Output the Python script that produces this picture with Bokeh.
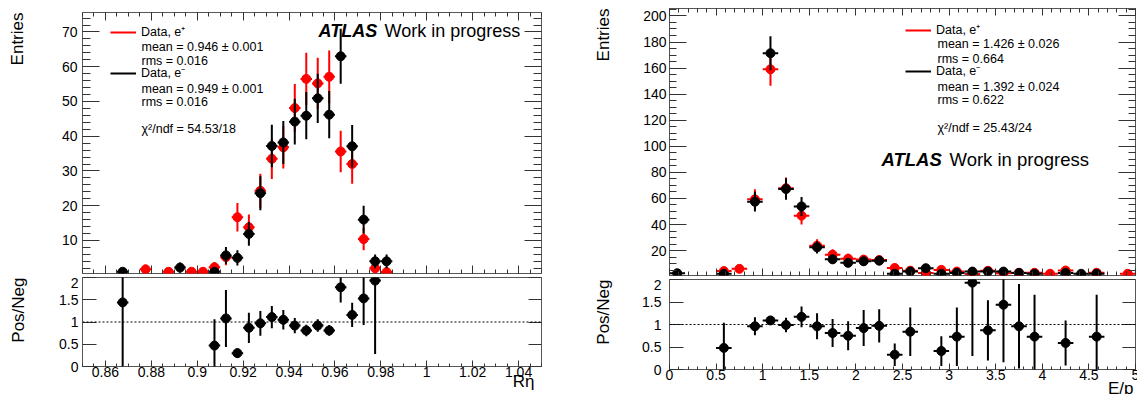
import numpy as np
from bokeh.plotting import figure
from bokeh.models import (LinearAxis, FixedTicker, Range1d, Label, Span, Legend, Title,
                          LegendItem, ColumnDataSource, CustomJSTickFormatter,
                          CustomLabelingPolicy)
from bokeh.layouts import row, column
from bokeh.embed import file_html
from bokeh.resources import INLINE

FONT = "Liberation Sans"
FRAME = "#555555"
TICK = "#333333"

# ---------------- data: R_eta (left) ----------------
reta_pos_x = [0.8775, 0.8875, 0.8975, 0.9025, 0.9075, 0.9125, 0.9175, 0.9225, 0.9275, 0.9325,
              0.9375, 0.9425, 0.9475, 0.9525, 0.9575, 0.9625, 0.9675, 0.9725, 0.9775, 0.9825]
reta_pos_y = [1.7, 1.0, 1.0, 1.0, 2.3, 5.2, 16.7, 13.8, 24.3, 33.5,
              36.8, 48.1, 56.5, 55.2, 57.1, 35.6, 32.0, 10.4, 2.0, 0.9]
reta_pos_err = [1.3, 1.0, 1.0, 1.0, 1.5, 2.3, 4.1, 3.7, 4.9, 5.8,
                6.1, 6.9, 7.5, 7.4, 7.6, 6.0, 5.7, 3.2, 1.4, 0.9]
reta_neg_x = [0.8675, 0.8925, 0.9075, 0.9125, 0.9175, 0.9225, 0.9275, 0.9325, 0.9375,
              0.9425, 0.9475, 0.9525, 0.9575, 0.9625, 0.9675, 0.9725, 0.9775, 0.9825]
reta_neg_y = [1.0, 2.2, 1.0, 5.7, 5.0, 11.9, 23.6, 37.2, 38.2,
              44.2, 45.9, 50.9, 46.2, 63.0, 37.1, 16.0, 4.0, 4.0]
reta_neg_err = [1.0, 1.5, 1.0, 2.4, 2.2, 3.4, 4.9, 6.1, 6.2,
                6.6, 6.8, 7.1, 6.8, 7.9, 6.1, 4.0, 2.0, 2.0]
reta_ratio_x = [0.8675, 0.9075, 0.9125, 0.9175, 0.9225, 0.9275, 0.9325, 0.9375,
                0.9425, 0.9475, 0.9525, 0.9575, 0.9625, 0.9675, 0.9725, 0.9775]
reta_ratio_y = [1.44, 0.47, 1.08, 0.30, 0.87, 0.97, 1.11, 1.05,
                0.92, 0.81, 0.92, 0.81, 1.78, 1.16, 1.53, 1.93]
reta_ratio_err = [1.50, 0.59, 0.64, 0.11, 0.34, 0.28, 0.25, 0.22,
                  0.17, 0.13, 0.14, 0.12, 0.34, 0.27, 0.60, 1.65]
reta_half_bin = 0.0025
reta_ticks = [0.86, 0.88, 0.9, 0.92, 0.94, 0.96, 0.98, 1.0, 1.02, 1.04]

# ---------------- data: E/p (right) ----------------
ep_pos_x = [0.5833, 0.75, 0.9167, 1.0833, 1.25, 1.4167, 1.5833, 1.75, 1.9167, 2.0833, 2.25,
            2.4167, 2.5833, 2.75, 2.9167, 3.0833, 3.25, 3.4167, 3.5833, 3.75, 3.9167,
            4.0833, 4.25, 4.5833, 4.9167]
ep_pos_y = [4.3, 6.0, 59.3, 159.1, 67.9, 46.8, 23.8, 16.9, 13.8, 13.1, 12.7,
            6.7, 4.6, 2.9, 5.2, 3.9, 2.0, 4.5, 2.7, 3.0, 3.0,
            2.2, 4.7, 3.0, 2.2]
ep_pos_err = [2.1, 2.4, 7.7, 12.6, 8.2, 6.8, 4.9, 4.1, 3.7, 3.6, 3.6,
              2.6, 2.1, 1.7, 2.3, 2.0, 1.4, 2.1, 1.6, 1.7, 1.7,
              1.5, 2.2, 1.7, 1.5]
ep_neg_x = [0.0833, 0.5833, 0.9167, 1.0833, 1.25, 1.4167, 1.5833, 1.75, 1.9167, 2.0833, 2.25,
            2.4167, 2.5833, 2.75, 2.9167, 3.0833, 3.25, 3.4167, 3.5833, 3.75, 3.9167,
            4.25, 4.4167, 4.5833]
ep_neg_y = [2.6, 2.2, 57.5, 171.4, 67.2, 53.9, 22.5, 13.3, 10.6, 11.8, 12.3,
            2.2, 3.9, 6.5, 2.2, 2.9, 3.9, 3.9, 3.9, 2.9, 2.2,
            2.9, 2.2, 2.2]
ep_neg_err = [1.6, 1.5, 7.6, 13.1, 8.2, 7.3, 4.7, 3.6, 3.3, 3.4, 3.5,
              1.5, 2.0, 2.5, 1.5, 1.7, 2.0, 2.0, 2.0, 1.7, 1.5,
              1.7, 1.5, 1.5]
ep_ratio_x = [0.5833, 0.9167, 1.0833, 1.25, 1.4167, 1.5833, 1.75, 1.9167, 2.0833, 2.25,
              2.4167, 2.5833, 2.9167, 3.0833, 3.25, 3.4167, 3.5833, 3.75, 3.9167, 4.25, 4.5833]
ep_ratio_y = [0.48, 0.96, 1.09, 0.99, 1.17, 0.96, 0.81, 0.75, 0.92, 0.97,
              0.33, 0.84, 0.41, 0.73, 1.93, 0.87, 1.44, 0.96, 0.73, 0.59, 0.73]
ep_ratio_err = [0.56, 0.20, 0.10, 0.16, 0.23, 0.29, 0.31, 0.32, 0.40, 0.37,
                0.25, 0.54, 0.33, 0.65, 1.63, 0.67, 1.28, 0.94, 0.93, 0.50, 0.93]
ep_half_bin = 1.0 / 12.0
ep_ticks = [0, 0.5, 1, 1.5, 2, 2.5, 3, 3.5, 4, 4.5, 5]


class Frame:
    """Maps page pixels to data coordinates for a panel's frame."""
    def __init__(self, left, top, right, bottom, xr, yr):
        self.l, self.t, self.r, self.b = left, top, right, bottom
        self.xr, self.yr = xr, yr

    def x(self, px):
        return self.xr[0] + (px - self.l) / (self.r - self.l) * (self.xr[1] - self.xr[0])

    def y(self, py):
        return self.yr[1] - (py - self.t) / (self.b - self.t) * (self.yr[1] - self.yr[0])


FMT = CustomJSTickFormatter(code="return String(parseFloat(tick.toFixed(4)));")
NO_LABELS = CustomLabelingPolicy(code="for (const i of Array.from(indices)) indices.unset(i); return indices;")


def make_panel(fr, bl, br, bt, bb):
    p = figure(x_range=Range1d(*fr.xr), y_range=Range1d(*fr.yr),
               frame_width=fr.r - fr.l, frame_height=fr.b - fr.t,
               min_border_left=bl, min_border_right=br,
               min_border_top=bt, min_border_bottom=bb,
               toolbar_location=None, output_backend="svg",
               x_axis_type=None, y_axis_type=None)
    p.outline_line_color = FRAME
    p.outline_line_width = 1
    p.background_fill_color = "white"
    p.border_fill_color = "white"
    return p


def add_axis(p, side, ticks, minor, labels, major_in, minor_in, standoff=3, size="14px"):
    ax = LinearAxis(ticker=FixedTicker(ticks=ticks, minor_ticks=minor), formatter=FMT)
    ax.axis_line_color = None
    ax.major_tick_in = major_in
    ax.major_tick_out = 0
    ax.minor_tick_in = minor_in
    ax.minor_tick_out = 0
    ax.major_tick_line_color = TICK
    ax.minor_tick_line_color = TICK
    if labels:
        ax.major_label_text_font = FONT
        ax.major_label_text_font_size = size
        ax.major_label_text_color = "black"
        ax.major_label_standoff = standoff
    else:
        ax.major_label_policy = NO_LABELS
        ax.major_label_text_font_size = "1px"
        ax.major_label_standoff = 0
    p.add_layout(ax, side)


def side_title_left(p, text, line_height):
    # ROOT-style axis title at the top end of a vertical axis; the empty second
    # line pushes the title away from the tick labels.
    t = Title(text=text + "\n", align="right", vertical_align="bottom", standoff=0,
              text_font=FONT, text_font_size="17px", text_font_style="normal",
              text_color="black", text_line_height=line_height)
    p.add_layout(t, "left")


def side_title_below(p, text, standoff, offset):
    t = Title(text=text, align="right", vertical_align="top", standoff=standoff, offset=offset,
              text_font=FONT, text_font_size="17px", text_font_style="normal",
              text_color="black")
    p.add_layout(t, "below")


def draw_points(p, xs, ys, errs, half, color):
    xs = np.asarray(xs, float)
    ys = np.asarray(ys, float)
    errs = np.asarray(errs, float)
    src = ColumnDataSource(dict(x=xs, y=ys, lo=ys - errs, hi=ys + errs,
                                x0=xs - half, x1=xs + half))
    rv = p.segment(x0="x", y0="lo", x1="x", y1="hi", source=src, line_color=color, line_width=2)
    p.segment(x0="x0", y0="y", x1="x1", y1="y", source=src, line_color=color, line_width=2)
    p.scatter(x="x", y="y", source=src, marker="circle", size=9,
              fill_color=color, line_color=color)
    return rv


def add_text(p, fr, px, py, text, size="12.5px", style="normal"):
    p.add_layout(Label(x=fr.x(px), y=fr.y(py), text=text, text_font=FONT,
                       text_font_size=size, text_font_style=style, text_color="black",
                       text_align="left", text_baseline="middle"))


def add_legend(p, r_pos, r_neg, loc, spacing):
    lg = Legend(items=[LegendItem(label="Data, e\u207a", renderers=[r_pos]),
                       LegendItem(label="Data, e\u207b", renderers=[r_neg])],
                location=loc)
    lg.glyph_width = 26
    lg.glyph_height = 14
    lg.label_height = 14
    lg.spacing = spacing
    lg.label_standoff = 5
    lg.padding = 0
    lg.margin = 0
    lg.border_line_color = None
    lg.background_fill_alpha = 0
    lg.label_text_font = FONT
    lg.label_text_font_size = "12.5px"
    lg.label_text_color = "black"
    p.add_layout(lg)


def ratio_line(p):
    p.add_layout(Span(location=1, dimension="width", line_color="black",
                      line_width=1, line_dash="2 2"))


# ---------------- frames (page pixels) ----------------
LU = Frame(82, 12, 541, 273, (0.85, 1.05), (0.5, 75.6))
LL = Frame(82, 273, 541, 362, (0.85, 1.05), (0.0, 2.0))
RU = Frame(669, 8, 1135, 275, (0.0, 5.0), (0.9, 205.7))
RL = Frame(669, 275, 1135, 365, (0.0, 5.0), (0.0, 2.0))

reta_minor = [round(0.85 + 0.005 * i, 4) for i in range(41)]
ep_minor = [round(0.1 * i, 2) for i in range(51)]

# ---------------- left upper ----------------
lu = make_panel(LU, 82, 36, 12, 0)
add_axis(lu, "below", reta_ticks, reta_minor, False, 8, 4)
add_axis(lu, "above", reta_ticks, reta_minor, False, 8, 4)
add_axis(lu, "left", [10, 20, 30, 40, 50, 60, 70], list(range(0, 77, 2)), True, 17, 8, standoff=5)
add_axis(lu, "right", [10, 20, 30, 40, 50, 60, 70], list(range(0, 77, 2)), False, 17, 8)
side_title_left(lu, "Entries", 1.66)
r_pos = draw_points(lu, reta_pos_x, reta_pos_y, reta_pos_err, reta_half_bin, "#ff0000")
r_neg = draw_points(lu, reta_neg_x, reta_neg_y, reta_neg_err, reta_half_bin, "#000000")
add_legend(lu, r_pos, r_neg, (110 - 82, 192), 24)
add_text(lu, LU, 141, 46, "mean = 0.946 \u00b1 0.001")
add_text(lu, LU, 141, 60, "rms = 0.016")
add_text(lu, LU, 141, 88, "mean = 0.949 \u00b1 0.001")
add_text(lu, LU, 141, 101, "rms = 0.016")
add_text(lu, LU, 141, 128, "\u03c7\u00b2/ndf = 54.53/18")
add_text(lu, LU, 318, 30, "ATLAS", size="18px", style="bold italic")
add_text(lu, LU, 384, 30, "Work in progress", size="18px")

# ---------------- left lower ----------------
ll = make_panel(LL, 82, 36, 0, 32)
add_axis(ll, "below", reta_ticks, reta_minor, True, 6, 3, standoff=0)
add_axis(ll, "left", [0, 0.5, 1, 1.5, 2], [], True, 14, 0, standoff=4)
add_axis(ll, "right", [0, 0.5, 1, 1.5, 2], [], False, 13, 0)
side_title_left(ll, "Pos/Neg", 1.52)
side_title_below(ll, "R\u03b7", -16, 7)
ratio_line(ll)
draw_points(ll, reta_ratio_x, reta_ratio_y, reta_ratio_err, reta_half_bin, "#000000")

# ---------------- right upper ----------------
ru = make_panel(RU, 92, 2, 8, 0)
add_axis(ru, "below", ep_ticks, ep_minor, False, 7, 4)
add_axis(ru, "above", ep_ticks, ep_minor, False, 7, 4)
add_axis(ru, "left", list(range(20, 201, 20)), list(range(0, 206, 5)), True, 17, 7, standoff=3)
add_axis(ru, "right", list(range(20, 201, 20)), list(range(0, 206, 5)), False, 17, 7)
side_title_left(ru, "Entries", 1.46)
q_pos = draw_points(ru, ep_pos_x, ep_pos_y, ep_pos_err, ep_half_bin, "#ff0000")
q_neg = draw_points(ru, ep_neg_x, ep_neg_y, ep_neg_err, ep_half_bin, "#000000")
add_legend(ru, q_pos, q_neg, (905 - 669, 196), 24)
add_text(ru, RU, 937, 43, "mean = 1.426 \u00b1 0.026")
add_text(ru, RU, 937, 58, "rms = 0.664")
add_text(ru, RU, 937, 86, "mean = 1.392 \u00b1 0.024")
add_text(ru, RU, 937, 99, "rms = 0.622")
add_text(ru, RU, 937, 127, "\u03c7\u00b2/ndf = 25.43/24")
add_text(ru, RU, 881, 159, "ATLAS", size="18.5px", style="bold italic")
add_text(ru, RU, 949, 159, "Work in progress", size="18.5px")

# ---------------- right lower ----------------
rl = make_panel(RL, 92, 2, 0, 29)
add_axis(rl, "below", ep_ticks, ep_minor, True, 6, 3, standoff=0)
add_axis(rl, "left", [0, 0.5, 1, 1.5, 2], [], True, 14, 0, standoff=8)
add_axis(rl, "right", [0, 0.5, 1, 1.5, 2], [], False, 13, 0)
side_title_left(rl, "Pos/Neg", 1.4)
side_title_below(rl, "E/p", -8, 2)
ratio_line(rl)
draw_points(rl, ep_ratio_x, ep_ratio_y, ep_ratio_err, ep_half_bin, "#000000")

layout = row(column(lu, ll), column(ru, rl))
open("out.html", "w").write(file_html(layout, INLINE))
